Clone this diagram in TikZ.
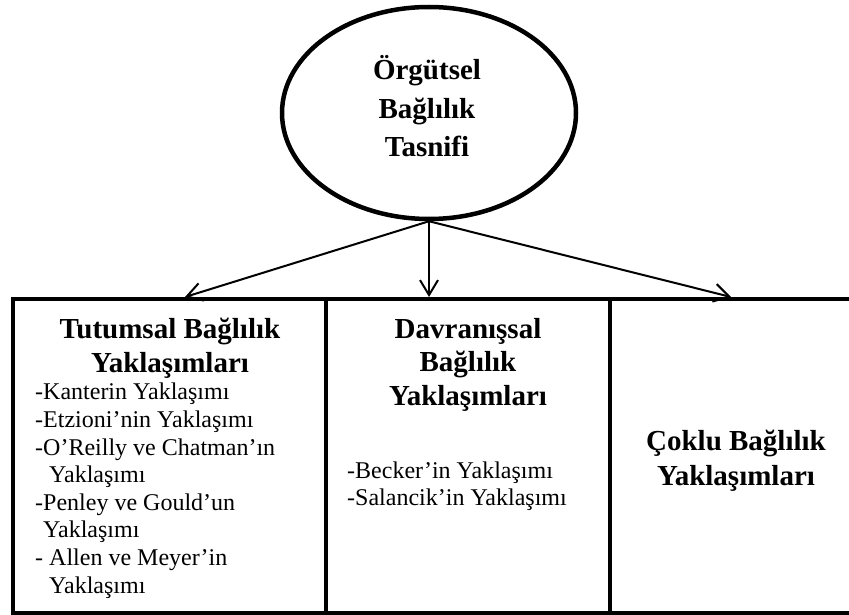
\documentclass[tikz,border=0pt]{standalone}
\usepackage{fontspec}
\setmainfont{Liberation Serif}
\usetikzlibrary{shapes.geometric,arrows.meta}
\begin{document}
\begin{tikzpicture}[x=1pt,y=-1pt,
  frame/.style={draw,line width=4pt,minimum height=314pt,inner sep=0pt},
  link/.style={line width=2pt,-{Straight Barb[length=15pt,width=18pt,line width=2pt]}},
  head/.style={font=\bfseries\fontsize{29}{33.5}\selectfont,align=center,inner sep=0pt,anchor=base},
  body/.style={font=\fontsize{24}{27.6}\selectfont,align=left,inner sep=0pt,anchor=base west},
]
\useasboundingbox (0,0) rectangle (849,615);

% root ellipse (text nodes are placed by the baseline of their last line)
\node[draw,ellipse,line width=4.5pt,minimum width=294pt,minimum height=212pt,inner sep=0pt]
  (top) at (429,113) {};
\node[head,font=\bfseries\fontsize{29}{38.5}\selectfont] (toptxt) at (427,157)
  {Örgütsel\\Bağlılık\\Tasnifi};

% the three category boxes
\node[frame,minimum width=313pt] (tut) at (169.5,456) {};
\node[frame,minimum width=284pt] (dav) at (468,456) {};
\node[frame,minimum width=252pt] (cok) at (736,456) {};

% connectors
\draw[link] (top.south) -- (tut.north -| 185,0);
\draw[link] (top.south) -- (dav.north -| top.south);
\draw[link] (top.south) -- (cok.north -| 731,0);

% attitudinal approaches
\node[head] (tuthead) at (170,372) {Tutumsal Bağlılık\\Yaklaşımları};
\node[body] (tutlist) at (35,593) {-Kanterin Yaklaşımı\\
-Etzioni’nin Yaklaşımı\\
-O’Reilly ve Chatman’ın\\
\hspace*{14pt}Yaklaşımı\\
-Penley ve Gould’un\\
\hspace*{8pt}Yaklaşımı\\
- Allen ve Meyer’in\\
\hspace*{14pt}Yaklaşımı};

% behavioural approaches
\node[head,font=\bfseries\fontsize{29}{33.5}\selectfont] (davhead) at (468,405)
  {Davranışsal\\Bağlılık\\Yaklaşımları};
\node[body,font=\fontsize{24}{27}\selectfont] (davlist) at (347,505)
  {-Becker’in Yaklaşımı\\-Salancik’in Yaklaşımı};

% multiple approaches
\node[head,font=\bfseries\fontsize{29}{35}\selectfont] (cokhead) at (736,485)
  {Çoklu Bağlılık\\Yaklaşımları};
\end{tikzpicture}
\end{document}
